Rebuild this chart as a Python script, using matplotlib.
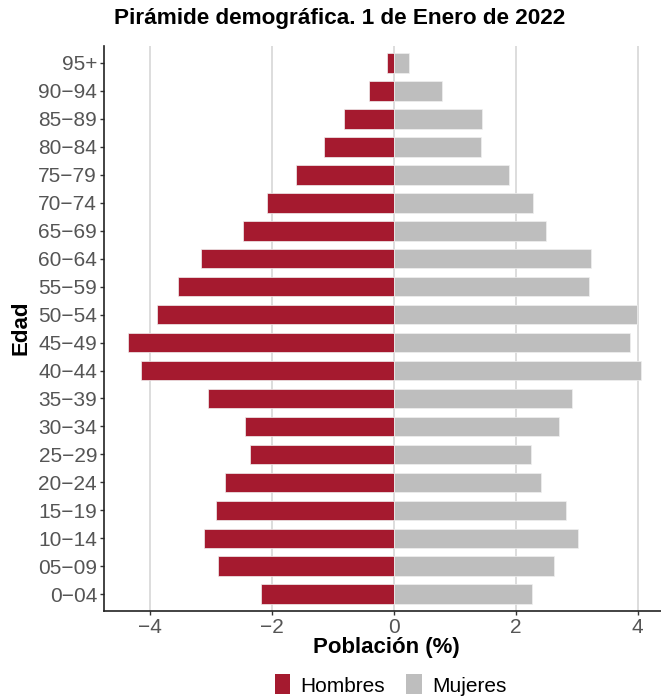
import numpy as np
import matplotlib.pyplot as plt
from matplotlib.patches import Patch

# Datos de la pirámide (porcentaje de población)
grupos = ['0-04', '05-09', '10-14', '15-19', '20-24', '25-29', '30-34', '35-39',
          '40-44', '45-49', '50-54', '55-59', '60-64', '65-69', '70-74', '75-79',
          '80-84', '85-89', '90-94', '95+']
hombres = [2.18, 2.88, 3.11, 2.92, 2.77, 2.36, 2.43, 3.05,
           4.15, 4.35, 3.88, 3.54, 3.16, 2.47, 2.07, 1.60,
           1.14, 0.82, 0.40, 0.11]
mujeres = [2.27, 2.63, 3.03, 2.83, 2.41, 2.25, 2.72, 2.92,
           4.06, 3.88, 3.99, 3.21, 3.23, 2.50, 2.29, 1.89,
           1.43, 1.45, 0.80, 0.26]
xticks = [-4, -2, 0, 2, 4]

rojo = '#A51A2F'
gris = '#BEBEBE'

plt.rcParams['font.family'] = ['Liberation Sans', 'DejaVu Sans']

fig = plt.figure(figsize=(6.61, 6.99), dpi=100)
ax = fig.add_axes([0.1573, 0.1259, 0.8487, 0.808])

y = np.arange(len(grupos))
ax.barh(y, -np.array(hombres), height=0.7, color=rojo, edgecolor='#f0f0f0', linewidth=0.5, zorder=3)
ax.barh(y, mujeres, height=0.7, color=gris, edgecolor='#f0f0f0', linewidth=0.5, zorder=3)

ax.set_xlim(-4.75, 4.45)
ax.set_ylim(-0.6, len(grupos) - 0.4)
ax.set_yticks(y)
ax.set_yticklabels([g.replace('-', '\u2212') for g in grupos])
ax.set_xticks(xticks)
ax.set_xticklabels([str(v).replace('-', '\u2212') for v in xticks])

ax.grid(axis='x', color='#d3d3d3', linewidth=1.1, zorder=0)
ax.set_axisbelow(True)
for s in ['top', 'right']:
    ax.spines[s].set_visible(False)
for s in ['left', 'bottom']:
    ax.spines[s].set_linewidth(1.2)
    ax.spines[s].set_color('#222222')
ax.tick_params(axis='both', labelsize=15, labelcolor='#555555', color='#333333', length=3, width=1, pad=2)

fig.text(0.514, 0.973, 'Pirámide demográfica. 1 de Enero de 2022', ha='center', va='center',
         fontsize=16.2, fontweight='bold')
fig.text(0.584, 0.073, 'Población (%)', ha='center', va='center', fontsize=16, fontweight='bold')
fig.text(0.032, 0.531, 'Edad', ha='center', va='center', rotation=90, fontsize=16, fontweight='bold')

handles = [Patch(facecolor=rojo, label='Hombres'), Patch(facecolor=gris, label='Mujeres')]
fig.legend(handles=handles, loc='center', bbox_to_anchor=(0.591, 0.02), ncol=2, frameon=False,
           fontsize=15, handlelength=0.75, handleheight=1.1, handletextpad=0.5, columnspacing=1.0)

fig.savefig('out.png', dpi=100)
